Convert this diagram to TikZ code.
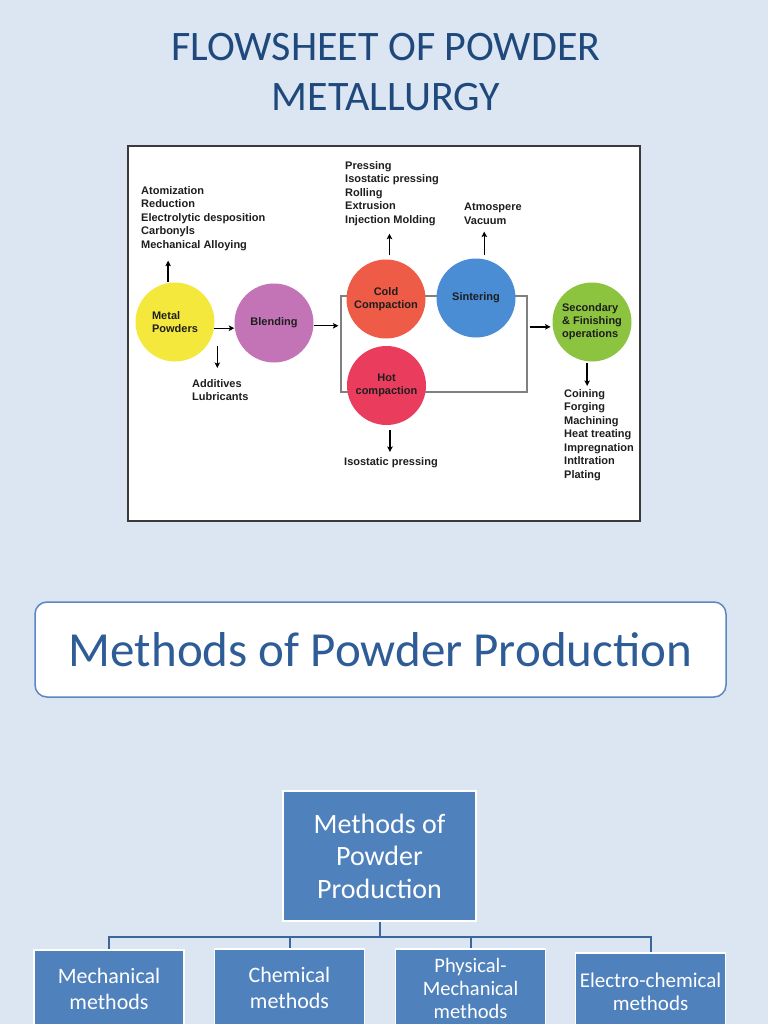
\documentclass[tikz,border=0pt]{standalone}
\usepackage{fontspec}
\setmainfont{Carlito}
\newfontfamily\arialf{Liberation Sans}
\usetikzlibrary{arrows.meta}
\definecolor{bg}{HTML}{DCE6F2}
\definecolor{ttl}{HTML}{1F497D}
\definecolor{frm}{HTML}{3A3A3A}
\definecolor{txt}{HTML}{1E1E1E}
\definecolor{cyel}{HTML}{F4E83C}
\definecolor{cpur}{HTML}{C274B6}
\definecolor{cred}{HTML}{EE5B47}
\definecolor{cblu}{HTML}{4A8DD4}
\definecolor{ccri}{HTML}{EA3D5E}
\definecolor{cgrn}{HTML}{8CC43F}
\definecolor{rb}{HTML}{5B87C0}
\definecolor{mtxt}{HTML}{2E5C96}
\definecolor{boxb}{HTML}{4F81BD}
\definecolor{connc}{HTML}{3C679C}
\definecolor{loopc}{HTML}{808080}
\begin{document}
\begin{tikzpicture}[x=1pt,y=-1pt,
  lbl/.style={font=\arialf\bfseries\fontsize{11}{13.5}\selectfont, text=txt, align=left, anchor=north west, inner sep=0pt},
  disc/.style={circle, minimum size=79pt, inner sep=0pt, font=\arialf\bfseries\fontsize{11}{13}\selectfont, text=txt, align=center},
  arr/.style={line width=1.4pt, draw=black, -{Stealth[length=5.5pt,width=5.5pt,inset=1.2pt]}},
  bb/.style={draw=white, line width=1.5pt, fill=boxb, text=white, align=center, inner sep=0pt},
  cbox/.style={minimum width=150pt, minimum height=78pt, font=\fontsize{22}{26}\selectfont},
  conn/.style={draw=connc, line width=2pt}
]
\useasboundingbox (0,0) rectangle (768,1024);
\clip (0,0) rectangle (768,1024);
\fill[bg] (0,0) rectangle (768,1024);

% title
\node[font=\fontsize{42}{50}\selectfont, text=ttl, align=center, anchor=north, inner sep=0pt] (title) at (386,33.5) {FLOWSHEET OF POWDER\\METALLURGY};

% flowsheet frame
\node[draw=frm, fill=white, line width=2pt, minimum width=512pt, minimum height=375pt, inner sep=0pt] (frame) at (384,333.5) {};
\node[draw=loopc, line width=1.2pt, minimum width=186pt, minimum height=96pt, inner sep=0pt] (loop) at (434,344) {};

% circles
\node[disc, fill=cyel, align=left] (mp) at (175,322) {Metal\\Powders};
\node[disc, fill=cpur] (bl) at (274,323) {Blending};
\node[disc, fill=cred] (cc) at (386,299) {Cold\\Compaction};
\node[disc, fill=cblu] (si) at (476,298) {Sintering};
\node[disc, fill=ccri] (hc) at (386.5,385.5) {Hot\\compaction};
\node[disc, fill=cgrn, align=left] (sf) at (592,322) {Secondary\\\& Finishing\\operations};

% annotation lists
\node[lbl] (atom) at (141,186) {Atomization\\Reduction\\Electrolytic desposition\\Carbonyls\\Mechanical Alloying};
\node[lbl] (press) at (345,161) {Pressing\\Isostatic pressing\\Rolling\\Extrusion\\Injection Molding};
\node[lbl] (atmo) at (464,203) {Atmospere\\Vacuum};
\node[lbl] (addit) at (192,379) {Additives\\Lubricants};
\node[lbl] (iso) at (344,457) {Isostatic pressing};
\node[lbl] (coin) at (564,389) {Coining\\Forging\\Machining\\Heat treating\\Impregnation\\Intltration\\Plating};

% flow arrows
\draw[arr] (mp.-9) -- (mp.-9 -| bl.west);
\draw[arr, shorten >=2pt] (bl.-4) -- (bl.-4 -| loop.west);
\draw[arr, shorten <=2pt, shorten >=2pt] (sf.187 -| loop.east) -- (sf.187);

% annotation arrows
\draw[arr, shorten <=1pt, shorten >=10pt] (mp.100) -- (mp.100 |- atom.south);
\draw[arr, shorten <=4pt, shorten >=8pt] (cc.85) -- (cc.85 |- press.south);
\draw[arr, shorten <=4pt, shorten >=7pt] (si.78) -- (si.78 |- atmo.south);
\draw[arr, shorten <=24pt, shorten >=11pt] ([xshift=-3pt]addit.north |- mp.east) -- ([xshift=-3pt]addit.north);
\draw[arr, shorten <=5pt, shorten >=5pt] (hc.275) -- (hc.275 |- iso.north);
\draw[arr, shorten <=2pt, shorten >=3pt] (sf.263) -- (sf.263 |- coin.north);

% methods banner
\node[draw=rb, fill=white, line width=1.5pt, rounded corners=12pt, minimum width=691pt, minimum height=95pt, inner sep=0pt, font=\fontsize{49}{50}\selectfont, text=mtxt] (mbox) at (380.5,649.5) {Methods of Powder Production};

% org chart
\node[bb, minimum width=193pt, minimum height=130pt, font=\fontsize{28}{32.5}\selectfont] (root) at (379.5,856) {Methods of\\Powder\\Production};
\node[bb, cbox] (c1) at (109,989) {Mechanical\\methods};
\node[bb, cbox] (c2) at (289.5,988) {Chemical\\methods};
\node[bb, cbox, font=\fontsize{20.5}{23}\selectfont] (c3) at (470.5,988) {Physical-\\Mechanical\\methods};
\node[bb, cbox, font=\fontsize{21}{23.5}\selectfont] (c4) at (650.5,992) {Electro-chemical\\methods};
\coordinate (bus) at (379.5,937);
\draw[conn] (root.south) -- (root.south |- bus) -| (c1.north);
\draw[conn] (root.south) -- (root.south |- bus) -| (c2.north);
\draw[conn] (root.south) -- (root.south |- bus) -| (c3.north);
\draw[conn] (root.south) -- (root.south |- bus) -| (c4.north);
\end{tikzpicture}
\end{document}
